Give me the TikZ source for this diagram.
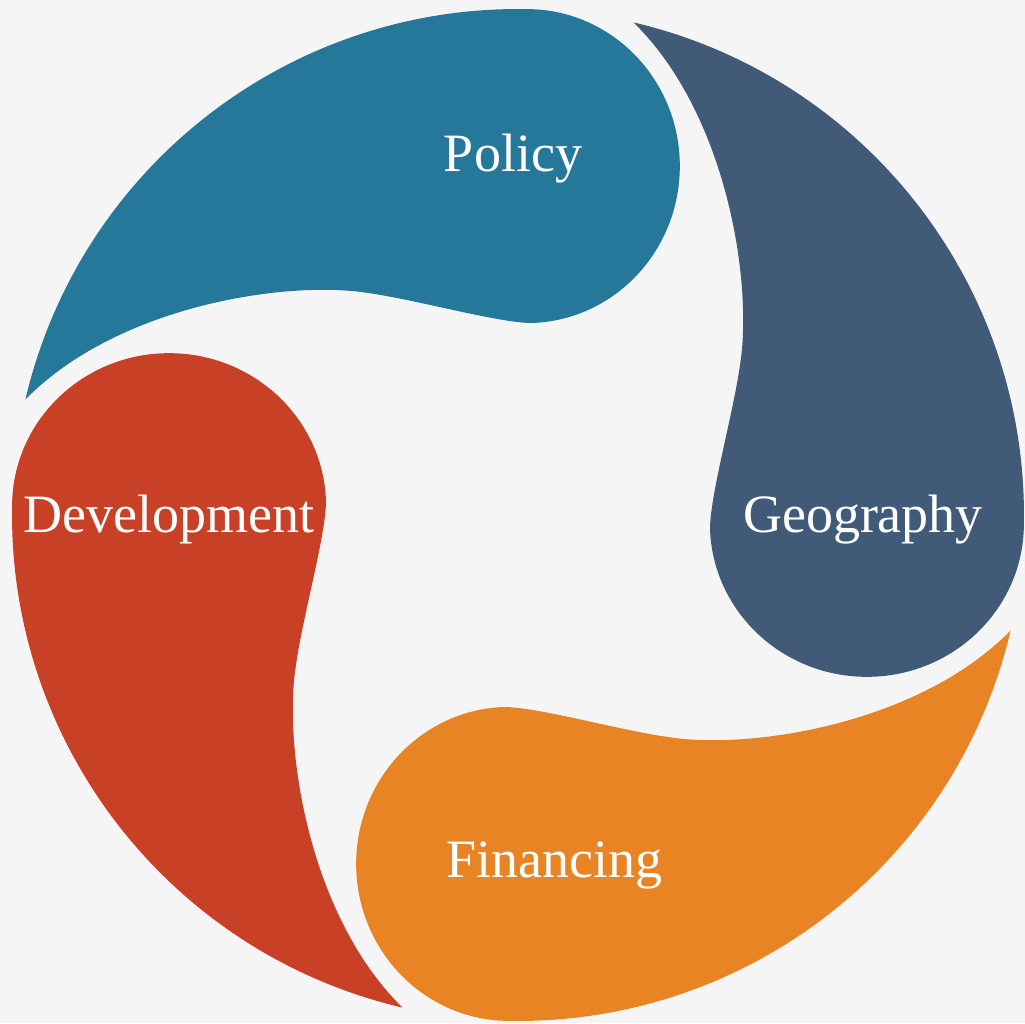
\documentclass[tikz,border=0pt]{standalone}
\usepackage{fontspec}
\setmainfont{Liberation Serif}
\definecolor{bgcolor}{HTML}{F5F5F5}
\definecolor{policyblue}{HTML}{25789A}
\definecolor{geoslate}{HTML}{405A78}
\definecolor{financeorange}{HTML}{E98424}
\definecolor{devred}{HTML}{C84127}
\begin{document}
\begin{tikzpicture}[x=1pt,y=1pt,
  % one teardrop petal: outer rim on the big circle, round bulb, curved tail
  petal/.pic={
    \fill[pic actions] (-492.6,115.5)
      arc[start angle=166.8, end angle=89, radius=506pt]
      arc[start angle=90, end angle=-88, x radius=153pt, y radius=157pt]
      .. controls (-20,192) and (-100,215) .. (-150,222)
      .. controls (-230,235) and (-400,210) .. (-492.6,115.5) -- cycle;
  },
  petaltext/.style={text=white, font=\fontsize{54pt}{60pt}\selectfont,
    anchor=base, inner sep=0pt}]
\fill[bgcolor] (-518,-508) rectangle (507,515);
\useasboundingbox (-518,-508) rectangle (507,515);

\pic[fill=policyblue] {petal};
\pic[fill=geoslate, rotate=-90] {petal};
\pic[fill=financeorange, rotate=180] {petal};
\pic[fill=devred, rotate=90] {petal};

\node[petaltext] (policy) at (-5,343) {Policy};
\node[petaltext] (geography) at (345,-17) {Geography};
\node[petaltext] (financing) at (36,-362) {Financing};
\node[petaltext] (development) at (-349,-17) {Development};
\end{tikzpicture}
\end{document}
